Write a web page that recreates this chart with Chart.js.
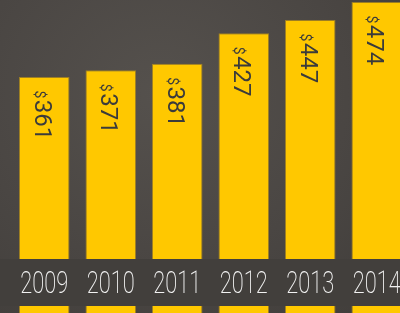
<!DOCTYPE html>
<html>
<head>
<meta charset="utf-8">
<script src="https://cdn.jsdelivr.net/npm/chart.js@4.4.0/dist/chart.umd.min.js"></script>
<style>
  html, body { margin: 0; padding: 0; width: 400px; height: 313px; overflow: hidden; }
  body { background: radial-gradient(ellipse at 40% 30%, #55514d 0%, #4a4643 55%, #403d3a 100%); }
  #wrap { position: absolute; left: 0; top: 0; width: 410px; height: 313px; }
</style>
</head>
<body>
<div id="wrap"><canvas id="c" width="410" height="313"></canvas></div>
<script>
const categories = ["2009", "2010", "2011", "2012", "2013", "2014"];
const values = [361, 371, 381, 427, 447, 474];
const valuePrefix = "$";

const labelPlugin = {
  id: 'labels',
  afterDatasetsDraw(chart) {
    const ctx = chart.ctx;
    const meta = chart.getDatasetMeta(0);
    const xs = chart.scales.x;
    meta.data.forEach((bar, i) => {
      ctx.save();
      ctx.translate(bar.x - 9.5, bar.y + 13.5);
      ctx.rotate(Math.PI / 2);
      ctx.fillStyle = '#3b3b3b';
      ctx.textBaseline = 'alphabetic';
      ctx.textAlign = 'left';
      ctx.font = '14px Roboto';
      ctx.fillText(valuePrefix, 0, 0);
      const w = ctx.measureText(valuePrefix).width;
      ctx.font = '24px Roboto';
      ctx.fillText(String(values[i]), w + 1.5, 0);
      ctx.restore();
    });
    ctx.save();
    ctx.fillStyle = '#423f3c';
    ctx.fillRect(0, 259, chart.width, 47);
    ctx.fillStyle = '#f2f2f2';
    ctx.font = '200 32px Roboto';
    ctx.textAlign = 'center';
    ctx.textBaseline = 'alphabetic';
    categories.forEach((c, i) => {
      const x = xs.getPixelForTick(i);
      ctx.save();
      ctx.translate(x, 293);
      ctx.scale(0.68, 1);
      ctx.fillText(c, 0, 0);
      ctx.restore();
    });
    ctx.restore();
  }
};

new Chart(document.getElementById('c'), {
  type: 'bar',
  data: {
    labels: categories,
    datasets: [{
      data: values,
      backgroundColor: '#ffc800',
      borderColor: 'rgba(170,135,30,0.85)',
      borderWidth: 1,
      borderSkipped: false,
      barPercentage: 0.76,
      categoryPercentage: 1
    }]
  },
  options: {
    responsive: false,
    animation: false,
    layout: { padding: { left: 11, right: 0, top: 0, bottom: 0 } },
    plugins: { legend: { display: false }, tooltip: { enabled: false } },
    scales: {
      x: { display: false },
      y: { display: false, min: 5.4, max: 477 }
    }
  },
  plugins: [labelPlugin]
});
</script>
</body>
</html>
